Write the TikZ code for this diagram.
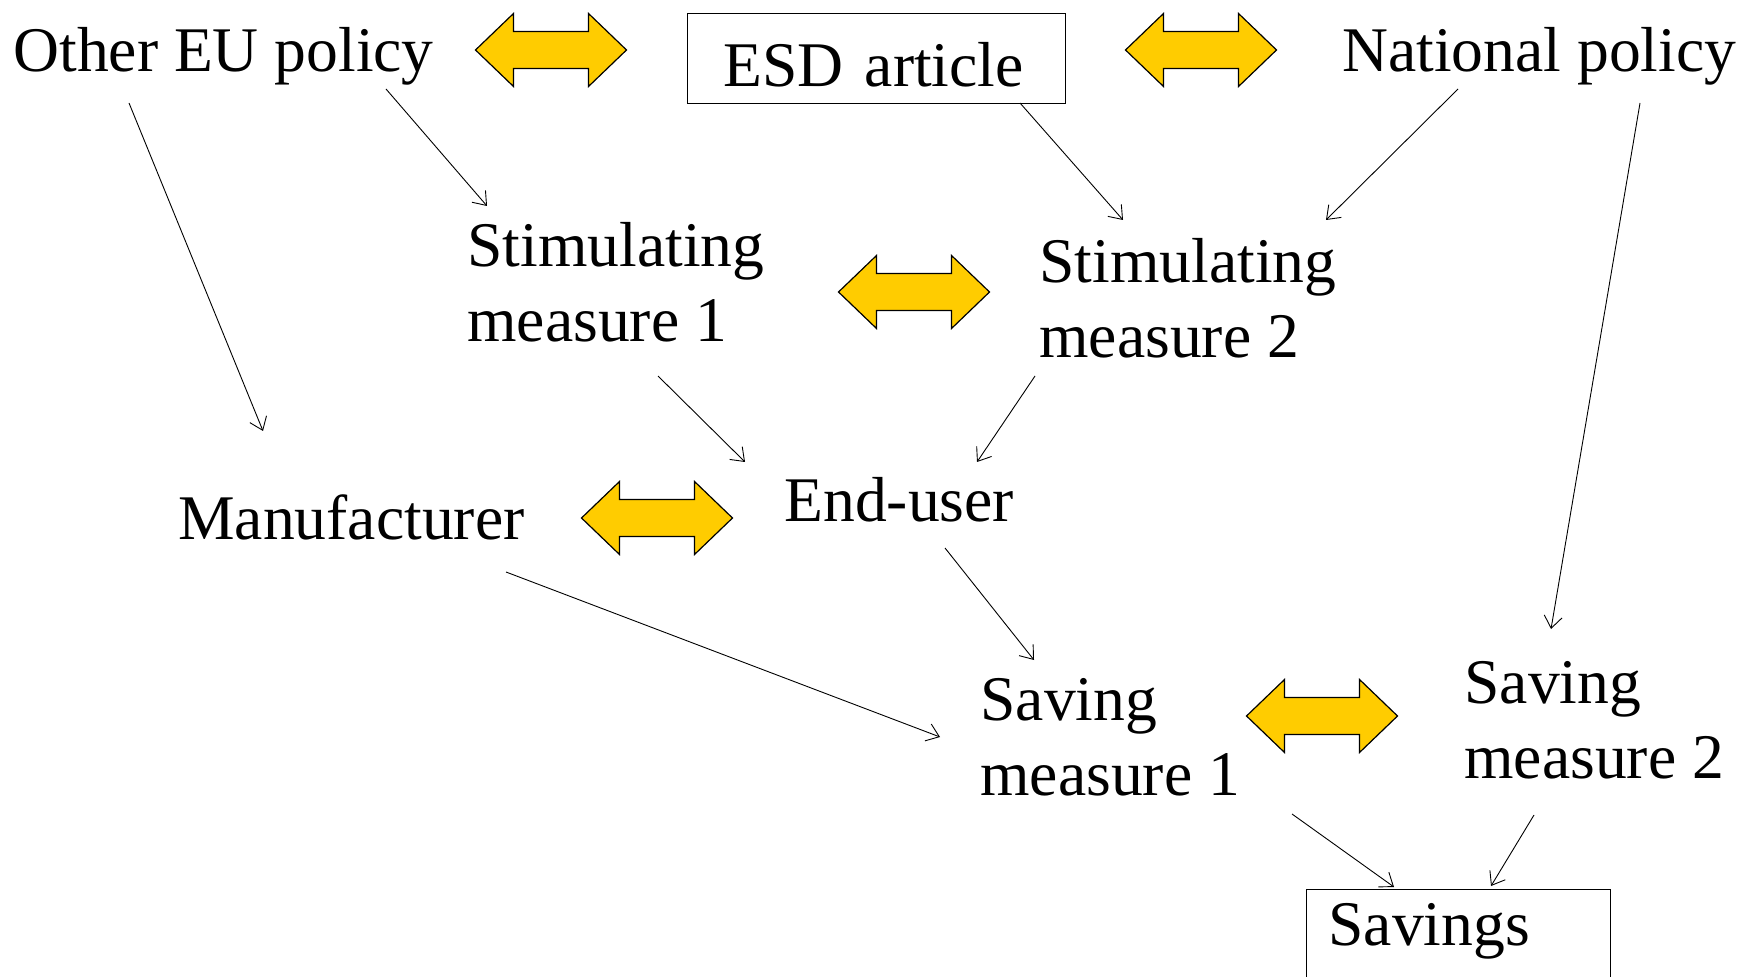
\documentclass[tikz,border=0pt]{standalone}
\usepackage{fontspec}
\setmainfont{Liberation Serif}
\usetikzlibrary{arrows.meta}
\definecolor{arrowyellow}{HTML}{FFCC00}
\tikzset{
  txt/.style={anchor=base west,inner sep=0pt,align=left,font=\fontsize{31.8}{37.5}\selectfont},
  flow/.style={-{Straight Barb[length=6pt,width=9pt]},line width=0.45pt},
  dblarrow/.pic={\draw[line width=0.6pt,fill=arrowyellow] (-75.5,0)--(-37.5,-36.5)--(-37.5,-18.5)--(37.5,-18.5)--(37.5,-36.5)--(75.5,0)--(37.5,36.5)--(37.5,18.5)--(-37.5,18.5)--(-37.5,36.5)--cycle;}
}
\begin{document}
\begin{tikzpicture}[x=0.5pt,y=-0.5pt]
 \useasboundingbox (0,0) rectangle (1743,977); %全体
 \node[txt] (OEU) at (13,72) {Other EU policy};
 \node[txt,draw,anchor=north west,inner xsep=18pt,text width=153pt,text height=36.5pt,text depth=8.5pt,line width=0.5pt] (ESD) at (687,13) {ESD article};
 \node[txt] (NAT) at (1342,72) {National policy};
 \node[txt] (SM1) at (467,342) {Stimulating\\measure 1}; %base = 2nd line
 \node[txt] (SM2) at (1039,358) {Stimulating\\measure 2};
 \node[txt] (MAN) at (178,539) {Manufacturer};
 \node[txt] (EU) at (784,522) {End-user};
 \node[txt] (SV1) at (980,795) {Saving\\measure 1};
 \node[txt] (SV2) at (1464,778) {Saving\\measure 2};
 \node[txt,draw,anchor=north west,inner xsep=11pt,text width=130pt,text height=28pt,text depth=25pt,line width=0.5pt] (SAV) at (1306,889) {Savings};
 \pic (A1) at (551,50) {dblarrow}; %OEU-ESD
 \pic (A2) at (1201,50) {dblarrow}; %ESD-NAT
 \pic (A3) at (914,292) {dblarrow}; %SM1-SM2
 \pic (A4) at (657,518) {dblarrow}; %MAN-EU
 \pic (A5) at (1322,716) {dblarrow}; %SV1-SV2
 \coordinate (OEUa) at (129,103); \coordinate (MANa) at (263,431);
 \coordinate (OEUb) at (386,89); \coordinate (SM1a) at (487,206);
 \coordinate (ESDa) at (1020,103); \coordinate (SM2a) at (1123,220);
 \coordinate (NATa) at (1458,89); \coordinate (SM2b) at (1326,220);
 \coordinate (NATb) at (1640,103); \coordinate (SV2a) at (1551,629);
 \coordinate (SM1b) at (658,376); \coordinate (EUa) at (745,462);
 \coordinate (SM2c) at (1035,376); \coordinate (EUb) at (977,462);
 \coordinate (MANb) at (506,572); \coordinate (SV1a) at (940,737);
 \coordinate (EUc) at (945,548); \coordinate (SV1b) at (1034,660);
 \coordinate (SV1c) at (1292,814); \coordinate (SAVa) at (1394,887);
 \coordinate (SV2b) at (1534,815); \coordinate (SAVb) at (1491,886);
 \draw[flow] (OEUa)--(MANa);
 \draw[flow] (OEUb)--(SM1a);
 \draw[flow] (ESDa)--(SM2a);
 \draw[flow] (NATa)--(SM2b);
 \draw[flow] (NATb)--(SV2a);
 \draw[flow] (SM1b)--(EUa);
 \draw[flow] (SM2c)--(EUb);
 \draw[flow] (MANb)--(SV1a);
 \draw[flow] (EUc)--(SV1b);
 \draw[flow] (SV1c)--(SAVa);
 \draw[flow] (SV2b)--(SAVb);
\end{tikzpicture}
\end{document}
